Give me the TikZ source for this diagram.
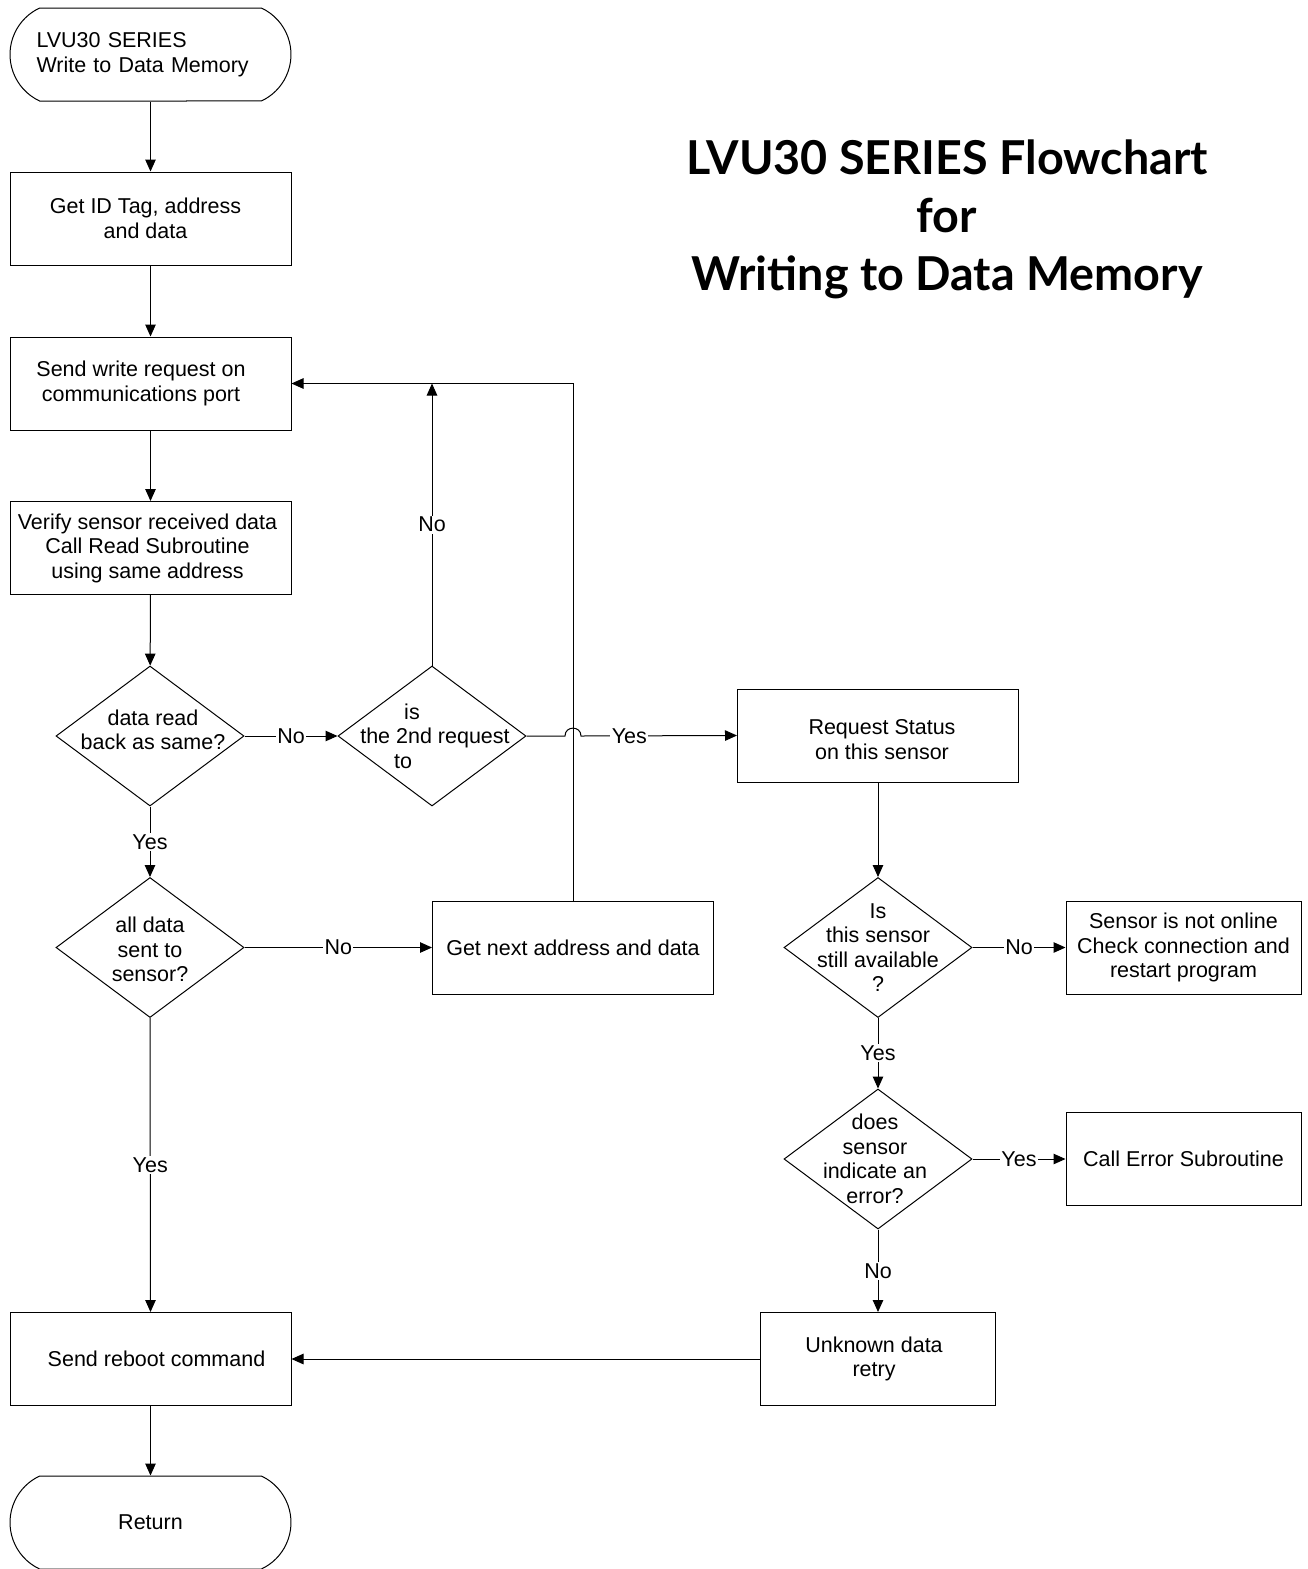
\documentclass[tikz,border=0pt]{standalone}
\usepackage{fontspec}
\setmainfont{Liberation Sans}
\newfontfamily\titlefont{Lato}
\usetikzlibrary{shapes.geometric,shapes.misc,arrows.meta}
\begin{document}
\begin{tikzpicture}[x=1pt,y=-1pt, line width=1pt,
  txt/.style={font=\fontsize{21.5}{24.5}\selectfont, align=center, inner sep=0pt},
  box/.style={draw, rectangle, inner sep=0pt, minimum width=281pt, minimum height=93pt, txt},
  sbox/.style={draw, rectangle, inner sep=0pt, minimum width=235pt, minimum height=93pt, txt},
  term/.style={draw, rounded rectangle, rounded rectangle arc length=130, inner sep=0pt, minimum width=281pt, minimum height=93pt},
  dec/.style={draw, diamond, inner sep=0pt, minimum width=188pt, minimum height=140pt},
  arr/.style={-{Triangle[length=12pt,width=10.5pt]}},
  lbl/.style={fill=white, txt, inner sep=1.5pt}]
\useasboundingbox (0,0) rectangle (1307,1569);

% nodes
\node[term, label={[txt, align=left, text width=230pt, xshift=1pt]center:LVU30 SERIES\\Write to Data Memory}] (start) at (150.5,54.5) {};
\node[box, label={[txt, xshift=-5pt]center:Get ID Tag, address\\and data}] (getid) at (150.5,218.5) {};
\node[box, label={[txt, xshift=-9.5pt]center:Send write request on\\communications port}] (send) at (150.5,383.5) {};
\node[box, label={[txt, xshift=-3pt]center:Verify sensor received data\\Call Read Subroutine\\using same address}] (verify) at (150.5,548) {};
\node[dec, label={[txt, xshift=3pt, yshift=6pt]center:data read\\back as same?}] (d1) at (150,736) {};
\node[dec, label={[txt, xshift=3pt]center:is\hspace*{46pt}\\the 2nd request\\to\hspace*{64pt}}] (d2) at (432,736) {};
\node[dec, label={[txt, yshift=-2pt]center:all data\\sent to\\sensor?}] (d3) at (150,947.5) {};
\node[box] (next) at (573,947.5) {Get next address and data};
\node[box, label={[txt, xshift=4pt, yshift=-4pt]center:Request Status\\on this sensor}] (status) at (878,735.5) {};
\node[dec, label={[txt]center:Is\\this sensor\\still available\\?}] (d4) at (878,947.5) {};
\node[sbox] (offline) at (1183.5,947.5) {Sensor is not online\\Check connection and\\restart program};
\node[dec, label={[txt, xshift=-3pt]center:does\\sensor\\indicate an\\error?}] (d5) at (878,1159) {};
\node[sbox] (err) at (1183.5,1159) {Call Error Subroutine};
\node[sbox, label={[txt, xshift=-4pt]center:Unknown data\\retry}] (unknown) at (878,1359) {};
\node[box, label={[txt, xshift=6pt]center:Send reboot command}] (reboot) at (150.5,1359) {};
\node[term, label={[txt]center:Return}] (ret) at (150.5,1522.5) {};

\coordinate (j) at (432,383.5);
\coordinate (hopL) at (565,736);
\coordinate (hopR) at (581,736);

\node[txt, font=\titlefont\bfseries\fontsize{46.7}{58}\selectfont] (title) at (947,219) {LVU30 SERIES Flowchart\\for\\Writing to Data Memory};

% connectors
\draw[arr] (start) -- (getid);
\draw[arr] (getid) -- (send);
\draw[arr] (send) -- (verify);
\draw[arr] (verify) -- (d1);
\draw[arr] (d1.east) -- node[lbl]{No} (d2.west);
\draw[arr] (d2.north) -- node[lbl]{No} (j);
\draw[arr] (next.north) |- (send.east);
\draw[arr] (d2.east) -- (hopL) .. controls (565,725.5) and (581,725.5) .. (hopR) -- node[lbl, pos=0.31]{Yes} (status.west);
\draw[arr] (d1.south) -- node[lbl]{Yes} (d3.north);
\draw[arr] (d3.east) -- node[lbl]{No} (next.west);
\draw[arr] (d3.south) -- node[lbl]{Yes} (reboot.north);
\draw[arr] (status.south) -- (d4.north);
\draw[arr] (d4.east) -- node[lbl]{No} (offline.west);
\draw[arr] (d4.south) -- node[lbl]{Yes} (d5.north);
\draw[arr] (d5.east) -- node[lbl]{Yes} (err.west);
\draw[arr] (d5.south) -- node[lbl]{No} (unknown.north);
\draw[arr] (unknown.west) -- (reboot.east);
\draw[arr] (reboot) -- (ret);
\end{tikzpicture}
\end{document}
